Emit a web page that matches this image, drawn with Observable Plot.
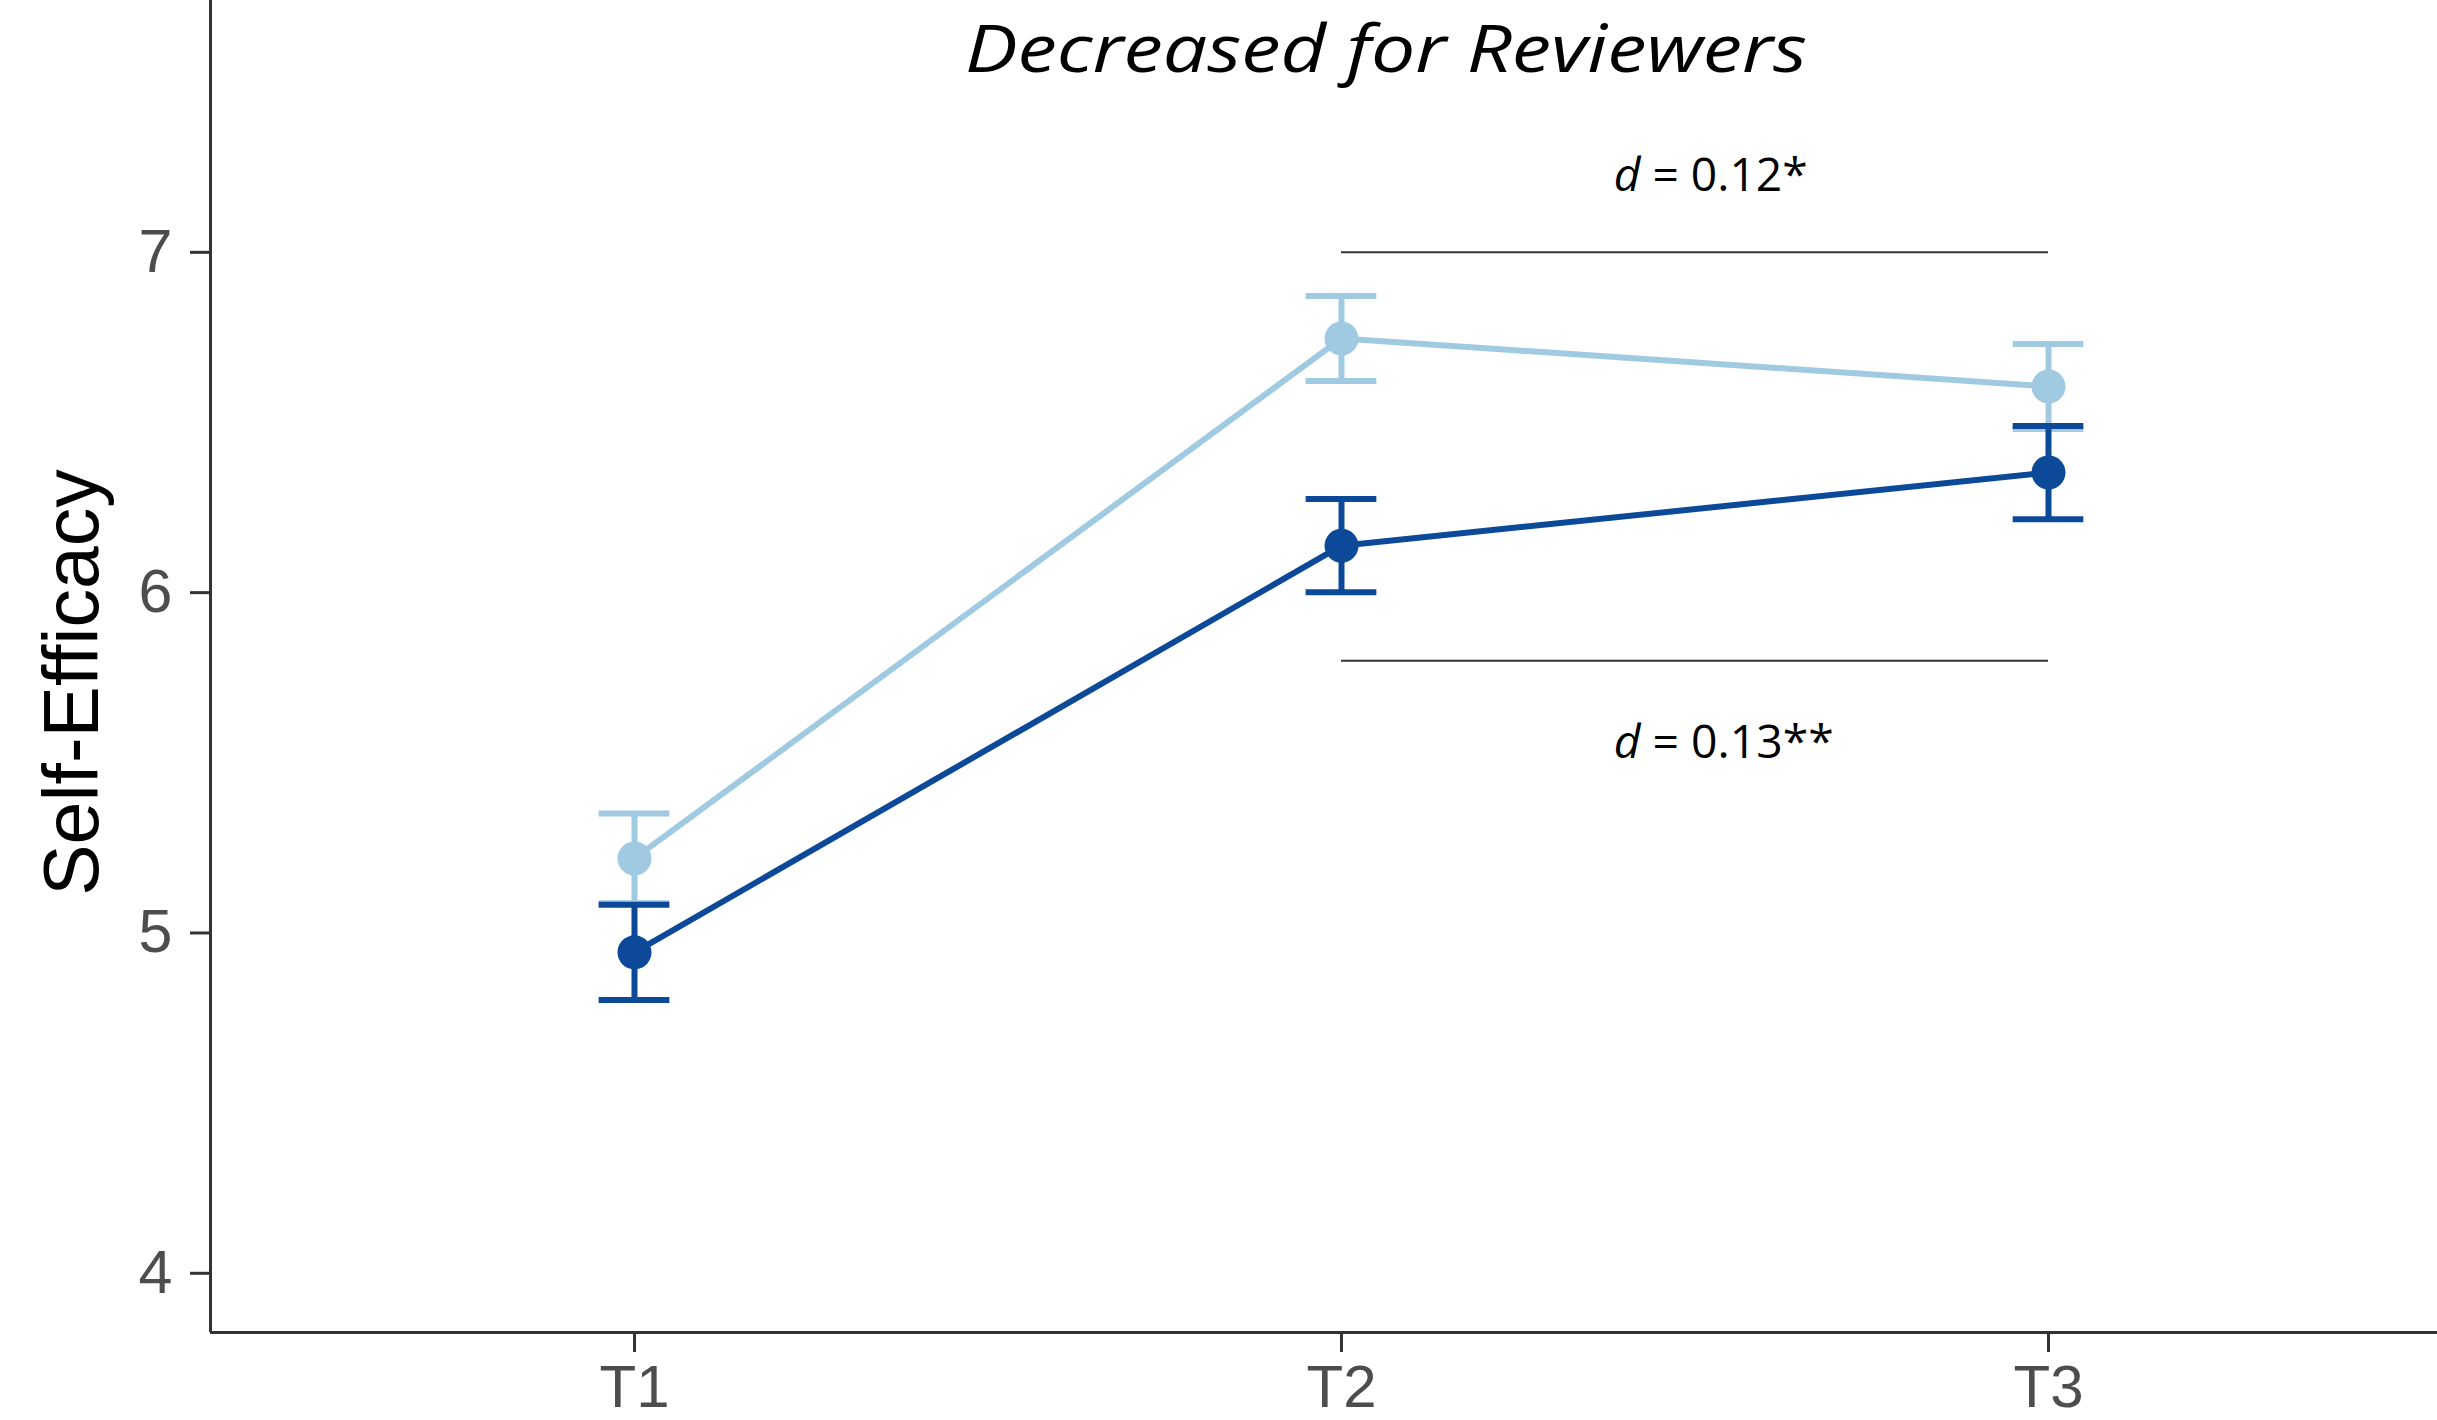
<!DOCTYPE html>
<html>
<head>
<meta charset="utf-8">
<script src="https://cdn.jsdelivr.net/npm/d3@7"></script>
<script src="https://cdn.jsdelivr.net/npm/@observablehq/plot@0.6"></script>
<style>
  html, body { margin: 0; padding: 0; background: white; }
</style>
</head>
<body>
<div id="chart"></div>
<script>
// ---- data ----
const times = ["T1", "T2", "T3"];
const timeIndex = [1, 2, 3];
const groups = ["Comparison", "Reviewers"];
const lightMean = [5.219, 6.747, 6.606];
const lightSE = [0.132, 0.125, 0.125];
const darkMean = [4.943, 6.138, 6.353];
const darkSE = [0.140, 0.137, 0.137];
const bracketFrom = ["T2", "T2"];
const bracketTo = ["T3", "T3"];
const bracketY = [7.0, 5.8];
const bracketLabels = ["d = 0.12*", "d = 0.13**"];
const bracketLabelY = [7.223, 5.557];
const titleText = "Decreased for Reviewers";
const yLabel = "Self-Efficacy";
const yTicks = [4, 5, 6, 7];

// ---- styling ----
const lightColor = "#9fcae1";
const darkColor = "#0c4998";
const xDomain = [0.4003, 3.5502];
const yDomain = [3.826, 7.740];
const capHalf = 0.05;
const labelX = 2.385;
const sw = 6;

const toRows = (means, ses, group) => timeIndex.map((x, i) => ({
  x, time: times[i], group, mean: means[i], lo: means[i] - ses[i], hi: means[i] + ses[i]
}));
const lightData = toRows(lightMean, lightSE, groups[0]);
const darkData = toRows(darkMean, darkSE, groups[1]);
const tIdx = t => timeIndex[times.indexOf(t)];
const brackets = bracketY.map((y, i) => ({
  x1: tIdx(bracketFrom[i]), x2: tIdx(bracketTo[i]), y, label: bracketLabels[i], ly: bracketLabelY[i]
}));

const seriesMarks = (data, color) => [
  Plot.line(data, {x: "x", y: "mean", stroke: color, strokeWidth: sw}),
  Plot.ruleX(data, {x: "x", y1: "lo", y2: "hi", stroke: color, strokeWidth: sw}),
  Plot.ruleY(data, {y: "hi", x1: d => d.x - capHalf, x2: d => d.x + capHalf, stroke: color, strokeWidth: sw}),
  Plot.ruleY(data, {y: "lo", x1: d => d.x - capHalf, x2: d => d.x + capHalf, stroke: color, strokeWidth: sw}),
  Plot.dot(data, {x: "x", y: "mean", r: 17, fill: color})
];

const chart = Plot.plot({
  width: 2437,
  height: 1420,
  marginLeft: 210,
  marginRight: 0,
  marginTop: 0,
  marginBottom: 88,
  style: {background: "white", fontFamily: "'Liberation Sans', Arial, Helvetica, sans-serif"},
  x: {domain: xDomain, axis: null},
  y: {domain: yDomain, axis: null},
  marks: [
    Plot.axisY({ticks: yTicks, tickFormat: d => String(d), tickSize: 20, tickPadding: 18, fontSize: 61, fill: "#4d4d4d", stroke: "#333", strokeWidth: 3, label: null}),
    Plot.axisX({ticks: timeIndex, tickFormat: d => times[d - 1], tickSize: 20, tickPadding: 12, fontSize: 60, fill: "#4d4d4d", stroke: "#333", strokeWidth: 3, label: null}),
    Plot.ruleX([xDomain[0]], {stroke: "#333", strokeWidth: 3}),
    Plot.ruleY([yDomain[0]], {stroke: "#333", strokeWidth: 3}),
    Plot.ruleY(brackets, {y: "y", x1: "x1", x2: "x2", stroke: "#333", strokeWidth: 2}),
    Plot.text(brackets, {x: () => labelX, y: "ly", text: "label", textAnchor: "start", lineAnchor: "middle", fontSize: 46, fontFamily: "'Open Sans', sans-serif", fill: "black"}),
    ...seriesMarks(lightData, lightColor),
    ...seriesMarks(darkData, darkColor),
    Plot.text([titleText], {frameAnchor: "top", text: d => d, lineAnchor: "bottom", dx: 62, dy: 71, fontSize: 66, fontStyle: "italic", fontFamily: "'Open Sans', sans-serif", fill: "black"}),
    Plot.text([yLabel], {frameAnchor: "left", text: d => d, rotate: -90, textAnchor: "middle", lineAnchor: "middle", dx: -137, dy: 16, fontSize: 77, fill: "black"})
  ]
});

// italicise the effect-size symbol "d" and fit text widths
const ns = "http://www.w3.org/2000/svg";
const fitWidths = {"d = 0.12*": 194, "d = 0.13**": 220, "Decreased for Reviewers": 842};
chart.querySelectorAll("text").forEach(t => {
  const s = t.textContent;
  if (fitWidths[s]) {
    t.setAttribute("textLength", fitWidths[s]);
    t.setAttribute("lengthAdjust", "spacingAndGlyphs");
  }
  if (s.startsWith("d = ")) {
    const rest = s.slice(1);
    t.textContent = "";
    const it = document.createElementNS(ns, "tspan");
    it.setAttribute("font-style", "italic");
    it.textContent = "d";
    t.appendChild(it);
    t.appendChild(document.createTextNode(rest));
  }
});

document.getElementById("chart").appendChild(chart);
</script>
</body>
</html>
